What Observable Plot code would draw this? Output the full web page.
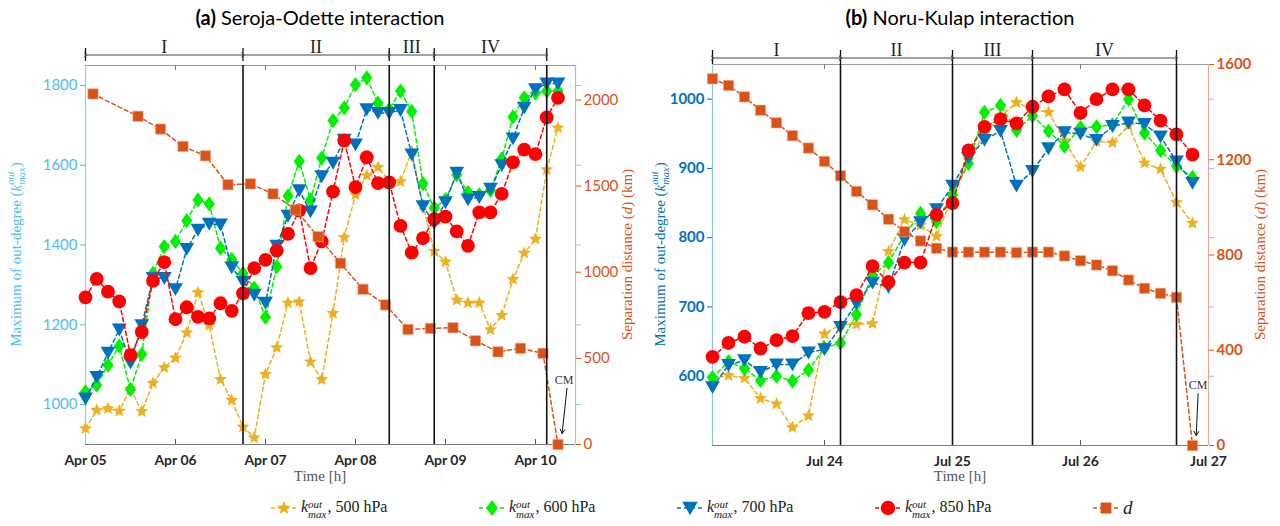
<!DOCTYPE html>
<html><head><meta charset="utf-8">
<script src="https://cdn.jsdelivr.net/npm/d3@7"></script>
<script src="https://cdn.jsdelivr.net/npm/@observablehq/plot@0.6"></script>
<style>
body{margin:0;background:#fff;width:1280px;height:526px;overflow:hidden;position:relative;font-family:Lato,sans-serif}
.title{position:absolute;top:5px;width:640px;text-align:center;font-size:20px;color:#000;font-family:Lato,sans-serif}
.panel{position:absolute;top:36px}
#legend{position:absolute;top:492px;left:0;width:1280px;height:32px}
.item{position:absolute;top:0;height:32px;display:flex;align-items:center;font-family:"Liberation Serif",serif;font-size:16px;color:#222;white-space:nowrap}
.ss{display:inline-flex;flex-direction:column;font-size:11px;line-height:10px;margin-right:1px;vertical-align:middle;position:relative;top:1px}
</style></head><body>
<div class="title" style="left:0"><b>(a)</b> Seroja-Odette interaction</div>
<div class="title" style="left:640px"><b>(b)</b> Noru-Kulap interaction</div>
<div id="a" class="panel" style="left:0"></div>
<div id="b" class="panel" style="left:640px"></div>
<div id="legend"></div>
<script>
// ---------------- DATA ----------------
// (a) Seroja-Odette: hours after 2021-04-05 00:00 UTC
const serojaHours = [0,3,6,9,12,15,18,21,24,27,30,33,36,39,42,45,48,51,54,57,60,63,66,69,72,75,78,81,84,87,90,93,96,99,102,105,108,111,114,117,120,123,126];
const seroja500 = [940,986,990,984,1040,983,1054,1093,1117,1180,1281,1199,1063,1011,944,917,1076,1143,1255,1258,1107,1063,1229,1419,1526,1574,1595,1560,1559,1635,1500,1384,1358,1262,1255,1255,1188,1224,1314,1380,1415,1589,1694];
const seroja600 = [1032,1049,1099,1147,1038,1126,1329,1396,1409,1461,1513,1503,1392,1364,1329,1292,1219,1346,1523,1610,1513,1618,1712,1744,1802,1819,1756,1740,1786,1735,1554,1493,1514,1576,1532,1526,1537,1616,1721,1769,1781,1786,1786];
const seroja700 = [1015,1069,1130,1188,1105,1199,1317,1317,1289,1390,1438,1453,1451,1344,1308,1275,1255,1398,1473,1537,1484,1572,1606,1664,1652,1740,1731,1731,1738,1627,1497,1455,1507,1581,1514,1520,1541,1600,1667,1744,1790,1805,1805];
const seroja850 = [1269,1315,1283,1259,1124,1182,1310,1357,1214,1244,1220,1216,1254,1235,1279,1342,1363,1386,1428,1487,1342,1409,1534,1662,1545,1620,1555,1557,1448,1381,1417,1465,1471,1434,1398,1482,1482,1528,1607,1639,1628,1720,1769];
const serojaDistHours = [2,14,20,26,32,38,44,50,56,62,68,74,80,86,92,98,104,110,116,122,126];
const serojaDist = [2035,1905,1831,1730,1676,1508,1513,1455,1362,1207,1052,901,810,668,674,678,602,538,558,529,0];
const serojaPhaseBounds = [0,42,81,93,123];
const serojaLeftTicks = [1000,1200,1400,1600,1800];
const serojaRightTicks = [0,500,1000,1500,2000];
const serojaDays = ["2021-04-05","2021-04-06","2021-04-07","2021-04-08","2021-04-09","2021-04-10"];
const serojaCM = {text:[127.6,374], from:[128.4,326], to:[127.1,64]};

// (b) Noru-Kulap: hours after 2017-07-23 03:00 UTC
const noruHours = [0,3,6,9,12,15,18,21,24,27,30,33,36,39,42,45,48,51,54,57,60,63,66,69,72,75,78,81,84,87,90];
const noru500 = [597,601,597,568,560,526,543,661,675,675,676,780,826,818,802,860,912,950,975,995,985,981,940,902,939,937,962,908,899,851,821];
const noru600 = [598,621,611,594,600,593,609,641,648,689,746,764,804,835,823,862,907,981,991,955,976,954,932,959,960,963,1000,951,926,903,887];
const noru700 = [584,616,623,606,617,617,634,639,671,705,735,729,797,822,841,875,915,941,954,875,896,929,952,950,941,961,966,964,946,910,879];
const noru850 = [628,648,657,640,652,658,691,693,707,717,759,736,764,764,833,850,926,960,971,965,989,1004,1014,980,1000,1014,1014,991,969,949,920];
const noruDist = [1540,1512,1464,1408,1355,1301,1249,1193,1133,1067,1011,950,898,859,828,812,812,812,812,810,812,812,796,776,758,734,695,660,639,622,0];
const noruPhaseBounds = [0,24,45,60,87];
const noruLeftTicks = [600,700,800,900,1000];
const noruRightTicks = [0,400,800,1200,1600];
const noruDays = ["2017-07-24","2017-07-25","2017-07-26","2017-07-27"];
const noruCM = {text:[91.05,253], from:[91.05,218], to:[90.7,42]};

const phaseNames = ["I","II","III","IV"];
const legendLabels = ["500 hPa","600 hPa","700 hPa","850 hPa"];

// ---------------- STYLE ----------------
const ORANGE = "#D95319";
const sym = f => ({draw(ctx, size){ f(ctx, Math.sqrt(size/Math.PI)); }});
const starSym = sym((c,r)=>{ const ri=r*0.45; for(let i=0;i<10;i++){ const a=-Math.PI/2+i*Math.PI/5, rr=i%2?ri:r; const x=rr*Math.cos(a), y=rr*Math.sin(a); i?c.lineTo(x,y):c.moveTo(x,y);} c.closePath(); });
const diamondSym = sym((c,r)=>{ c.moveTo(0,-r); c.lineTo(0.74*r,0); c.lineTo(0,r); c.lineTo(-0.74*r,0); c.closePath(); });
const downTriSym = sym((c,r)=>{ c.moveTo(-r,-0.82*r); c.lineTo(r,-0.82*r); c.lineTo(0,0.92*r); c.closePath(); });
const circleSym = sym((c,r)=>{ c.moveTo(r,0); c.arc(0,0,r,0,2*Math.PI); });
const squareSym = sym((c,r)=>{ c.rect(-r,-r,2*r,2*r); });
const seriesStyle = [
  {color:"#EDB120", symbol:starSym, r:6.8},
  {color:"#00F000", symbol:diamondSym, r:7.6},
  {color:"#0072BD", symbol:downTriSym, r:7.4},
  {color:"#FF0000", symbol:circleSym, r:6.9}
];
const distStyle = {color:ORANGE, symbol:squareSym, r:5.2};
const dayFmt = d3.utcFormat("%b %d");

function panel(cfg){
  const {el, height, mt, mb, ml, mr, start, endHours, yDomain, dMax, hours, series, distHours, dist,
         bounds, leftTicks, rightTicks, days, leftColor, leftLine, leftWeight, cm, ann} = cfg;
  const [lo, hi] = yDomain;
  const fh = height - mt - mb;
  const u = (hi - lo) / fh;
  const T = h => new Date(start + h*3600e3);
  const toY = d => lo + d / dMax * (hi - lo);
  const dayDates = days.map(s => new Date(s + "T00:00Z"));
  const marks = [
    Plot.ruleY([lo], {stroke:"#7a7a7a"}),
    Plot.ruleY([hi], {stroke:"#9a9a9a"}),
    Plot.ruleX(dayDates, {y1: lo, y2: lo + 5*u, stroke:"#555"}),
    Plot.ruleX(dayDates, {y1: hi, y2: hi - 5*u, stroke:"#777"}),
    Plot.axisX(dayDates, {anchor:"bottom", tickSize:0, tickPadding:11, tickFormat: dayFmt, fontSize:14, fontWeight:"bold", color:"#262626", label:null}),
    Plot.axisY(leftTicks, {anchor:"left", tickSize:5, tickPadding:3, tickFormat:d=>String(d), color:leftColor, fontSize:15, fontWeight:leftWeight, label:null}),
    Plot.axisY(leftTicks, {anchor:"right", tickSize:5, tickFormat:()=>"", color:leftLine, label:null}),
    Plot.axisY(rightTicks.map(toY), {anchor:"right", tickSize:5, tickPadding:3, tickFormat:(d,i)=>String(rightTicks[i]), color:ORANGE, fontSize:15, fontWeight:leftWeight, label:null}),
    Plot.ruleX([T(0)], {stroke:leftLine, strokeWidth:1.2}),
    Plot.ruleX([T(endHours)], {stroke:"#eea98c", strokeWidth:1.2})
  ];
  series.forEach((vals, s) => {
    const st = seriesStyle[s];
    const data = hours.map((h,i)=>({t:T(h), v:vals[i]}));
    marks.push(Plot.line(data, {x:"t", y:"v", stroke:st.color, strokeWidth:1.5, strokeDasharray:"4,3"}));
    marks.push(Plot.dot(data, {x:"t", y:"v", symbol:st.symbol, r:st.r, fill:st.color, stroke:"none"}));
  });
  const dd = distHours.map((h,i)=>({t:T(h), v:toY(dist[i])}));
  marks.push(Plot.line(dd, {x:"t", y:"v", stroke:distStyle.color, strokeWidth:1.5, strokeDasharray:"4,3"}));
  marks.push(Plot.dot(dd, {x:"t", y:"v", symbol:distStyle.symbol, r:distStyle.r, fill:distStyle.color, stroke:"#f3b9a0", strokeWidth:0.6}));
  // phase boundaries
  marks.push(Plot.ruleX(bounds.slice(1).map(T), {stroke:"#111", strokeWidth:1.6}));
  // phase annotation
  const phases = phaseNames.map((n,i)=>({n, a:T(bounds[i]), b:T(bounds[i+1]), m:T((bounds[i]+bounds[i+1])/2)}));
  marks.push(Plot.ruleX(bounds.map(T), {y1: hi + ann.barTop*u, y2: hi + ann.barBot*u, stroke:"#111", strokeWidth:1.3}));
  marks.push(Plot.link(phases, {x1:"a", x2:"b", y1: hi + ann.arrow*u, y2: hi + ann.arrow*u, stroke:"#444", strokeWidth:1, markerStart:"arrow", markerEnd:"arrow"}));
  marks.push(Plot.text(phases, {x:"m", y: hi + ann.label*u, text:"n", lineAnchor:"bottom", fontFamily:"'Liberation Serif', serif", fontSize:18, fill:"#222"}));
  // CM annotation
  marks.push(Plot.text([cm], {x: d=>T(d.text[0]), y: d=>toY(d.text[1]), text:()=> "CM", fontFamily:"'Liberation Serif', serif", fontSize:12, fill:"#333"}));
  marks.push(Plot.arrow([cm], {x1: d=>T(d.from[0]), y1: d=>toY(d.from[1]), x2: d=>T(d.to[0]), y2: d=>toY(d.to[1]), stroke:"#111", strokeWidth:1, headLength:7}));

  const svg = Plot.plot({
    width: 640, height, marginTop: mt, marginBottom: mb, marginLeft: ml, marginRight: mr,
    x: {type:"utc", domain:[T(0), T(endHours)]},
    y: {domain:[lo, hi], label:null},
    style: {fontFamily:"Lato, sans-serif", overflow:"visible", background:"transparent"},
    marks
  });
  document.getElementById(el).appendChild(svg);
  return {svg, cy: mt + fh/2, cx: ml + (640 - ml - mr)/2};
}

function richText(svg, {x, y, rotate, color, size, parts}){
  const t = d3.select(svg).append("text")
    .attr("transform", `translate(${x},${y}) rotate(${rotate})`)
    .attr("text-anchor","middle").attr("dominant-baseline","middle").attr("fill", color)
    .attr("font-family","'Liberation Serif', serif").attr("font-size", size);
  let supLen = 0, shift = 0;
  for (const p of parts){
    const ts = t.append("tspan").text(p.t);
    if (p.i) ts.attr("font-style","italic");
    if (p.sup){ ts.attr("font-size", size*0.7).attr("font-style","italic").attr("dy", -size*0.4); supLen = ts.node().getComputedTextLength(); shift = -size*0.4; }
    else if (p.sub){ ts.attr("font-size", size*0.7).attr("font-style","italic").attr("dx", -supLen).attr("dy", size*0.7); shift = size*0.3; }
    else if (shift){ ts.attr("dy", -shift); shift = 0; }
  }
}
const kParts = (pre) => [{t:pre},{t:"k",i:true},{t:"out",sup:true},{t:"max",sub:true},{t:")"}];
const dParts = [{t:"Separation distance ("},{t:"d",i:true},{t:") (km)"}];

const A = panel({el:"a", height:454, mt:29, mb:46, ml:85, mr:65, start: Date.UTC(2021,3,5,0), endHours:130.67,
  yDomain:[900,1850], dMax:2200, hours:serojaHours, series:[seroja500,seroja600,seroja700,seroja850],
  distHours:serojaDistHours, dist:serojaDist, bounds:serojaPhaseBounds, leftTicks:serojaLeftTicks, rightTicks:serojaRightTicks,
  days:serojaDays, leftColor:"#4DBEEE", leftLine:"#7fd0f2", leftWeight:"normal", cm:serojaCM, ann:{barTop:17, barBot:4, arrow:10.5, label:13}});
const B = panel({el:"b", height:454, mt:28, mb:45, ml:72, mr:72, start: Date.UTC(2017,6,23,3), endHours:93,
  yDomain:[500,1050], dMax:1600, hours:noruHours, series:[noru500,noru600,noru700,noru850],
  distHours:noruHours, dist:noruDist, bounds:noruPhaseBounds, leftTicks:noruLeftTicks, rightTicks:noruRightTicks,
  days:noruDays, leftColor:"#0072BD", leftLine:"#8cc3e8", leftWeight:"bold", cm:noruCM, ann:{barTop:14, barBot:0, arrow:6.5, label:9}});

richText(A.svg, {x:18, y:A.cy, rotate:-90, color:"#4DBEEE", size:15, parts:kParts("Maximum of out-degree (")});
richText(A.svg, {x:629, y:A.cy, rotate:-90, color:ORANGE, size:15, parts:dParts});
richText(A.svg, {x:320, y:442, rotate:0, color:"#555", size:15, parts:[{t:"Time [h]"}]});
richText(B.svg, {x:22, y:B.cy, rotate:-90, color:"#0072BD", size:15, parts:kParts("Maximum of out-degree (")});
richText(B.svg, {x:622, y:B.cy, rotate:-90, color:ORANGE, size:15, parts:dParts});
richText(B.svg, {x:B.cx, y:442, rotate:0, color:"#555", size:15, parts:[{t:"Time [h]"}]});

// ---------------- LEGEND ----------------
const legendLeft = [270, 478, 676, 874, 1092];
const leg = document.getElementById("legend");
const items = seriesStyle.map((st,i)=>({st, html:`<i>k</i><span class="ss"><i>out</i><i>max</i></span>, ${legendLabels[i]}`}));
items.push({st:distStyle, html:`<i style="font-size:19px">d</i>`});
items.forEach((it,i)=>{
  const div = document.createElement("div");
  div.className = "item"; div.style.left = legendLeft[i] + "px";
  const s = d3.create("svg").attr("width",28).attr("height",24).style("margin-right","3px");
  s.append("line").attr("x1",1).attr("x2",27).attr("y1",12).attr("y2",12).attr("stroke",it.st.color).attr("stroke-width",1.5).attr("stroke-dasharray","4,3");
  s.append("path").attr("transform","translate(14,12)").attr("d", d3.symbol(it.st.symbol, Math.PI*it.st.r*it.st.r*1.1)()).attr("fill",it.st.color);
  div.appendChild(s.node());
  const sp = document.createElement("span"); sp.innerHTML = it.html; div.appendChild(sp);
  leg.appendChild(div);
});
</script>
</body></html>
